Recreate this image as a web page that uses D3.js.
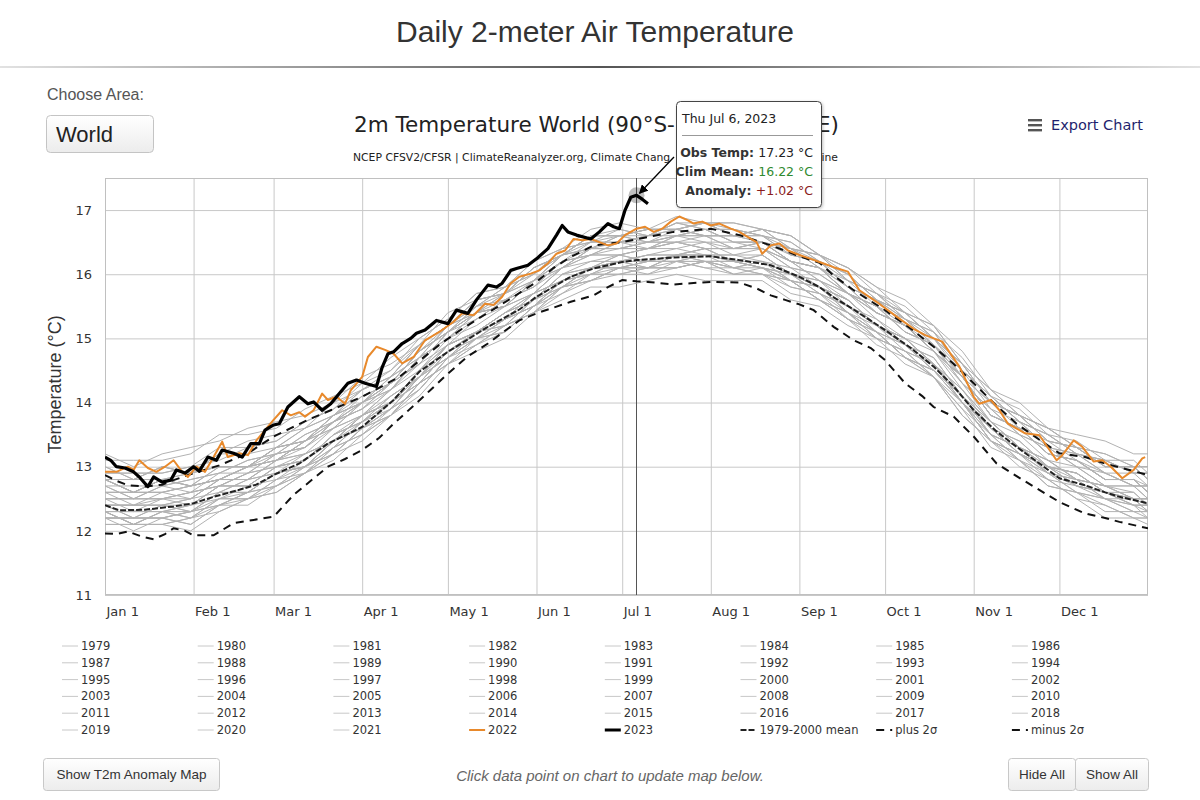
<!DOCTYPE html>
<html>
<head>
<meta charset="utf-8">
<script src="https://cdn.jsdelivr.net/npm/d3@7"></script>
<style>
  html, body { margin: 0; padding: 0; background: #fff; }
  body { width: 1200px; height: 800px; overflow: hidden; }
  svg { display: block; }
</style>
</head>
<body>
<svg id="chart" width="1200" height="800"></svg>
<script>
// ---------------- DATA ----------------
const monthDays = [0, 31, 59, 90, 120, 151, 181, 212, 243, 273, 304, 334];
const monthLabels = ["Jan 1", "Feb 1", "Mar 1", "Apr 1", "May 1", "Jun 1", "Jul 1", "Aug 1", "Sep 1", "Oct 1", "Nov 1", "Dec 1"];
const yTicks = [11, 12, 13, 14, 15, 16, 17];

// day-of-year sample points for the grey background years
const greyDays = [0,10,20,30,40,50,60,70,80,90,100,110,120,130,140,150,160,170,180,190,200,210,220,230,240,250,260,270,280,290,300,310,320,330,340,350,360,365];
const greyYears = [1979,1980,1981,1982,1983,1984,1985,1986,1987,1988,1989,1990,1991,1992,1993,1994,1995,1996,1997,1998,1999,2000,2001,2002,2003,2004,2005,2006,2007,2008,2009,2010,2011,2012,2013,2014,2015,2016,2017,2018,2019,2020,2021];
const greyValues = [
 [12.2,12.2,12.2,12.1,12.4,12.6,12.7,12.9,13.3,13.5,13.9,14.2,14.7,15.0,15.1,15.5,15.8,15.9,16.1,16.1,16.1,16.2,16.1,16.0,15.8,15.7,15.4,15.0,14.8,14.6,14.0,13.5,13.3,12.9,12.7,12.6,12.4,12.4],
 [12.3,12.1,12.3,12.4,12.5,12.6,12.9,13.0,13.3,13.7,14.0,14.3,14.8,15.0,15.3,15.5,15.8,16.1,16.1,16.2,16.2,16.2,16.2,16.1,15.9,15.6,15.4,15.1,14.7,14.5,14.0,13.4,13.2,12.8,12.7,12.5,12.3,12.3],
 [12.4,12.2,12.4,12.3,12.6,12.8,12.9,13.0,13.4,13.6,13.9,14.4,14.7,15.1,15.3,15.5,15.9,16.0,16.1,16.2,16.3,16.2,16.2,16.2,15.9,15.8,15.5,15.1,14.9,14.5,14.1,13.6,13.2,13.0,12.9,12.6,12.5,12.3],
 [12.3,12.1,12.1,12.2,12.4,12.4,12.7,12.9,13.3,13.5,13.8,14.3,14.6,14.9,15.2,15.4,15.8,15.9,16.0,16.1,16.1,16.2,16.0,16.0,15.7,15.6,15.3,15.1,14.7,14.5,14.0,13.4,13.2,13.0,12.7,12.6,12.5,12.5],
 [12.5,12.5,12.5,12.6,12.7,12.9,13.0,13.1,13.5,13.7,14.0,14.3,14.8,15.1,15.2,15.6,15.8,16.1,16.1,16.1,16.3,16.2,16.1,16.2,15.9,15.8,15.4,15.0,14.8,14.4,14.0,13.5,13.1,12.9,12.6,12.5,12.3,12.3],
 [12.2,12.0,12.2,12.1,12.4,12.5,12.6,12.9,13.2,13.6,13.8,14.2,14.7,14.9,15.1,15.5,15.7,15.9,16.1,16.0,16.1,16.2,16.0,16.0,15.9,15.6,15.3,14.9,14.7,14.4,13.8,13.4,13.0,12.8,12.5,12.2,12.2,12.1],
 [12.1,12.1,12.1,12.0,12.3,12.5,12.6,12.9,13.1,13.5,13.8,14.3,14.6,14.9,15.2,15.4,15.7,16.0,16.0,16.0,16.2,16.1,16.0,16.1,15.8,15.7,15.3,15.0,14.8,14.4,13.9,13.5,13.1,12.7,12.6,12.4,12.2,12.2],
 [12.2,12.2,12.2,12.3,12.4,12.6,12.7,13.0,13.2,13.6,13.9,14.2,14.7,15.0,15.1,15.5,15.8,15.9,16.1,16.1,16.2,16.1,16.1,16.1,15.9,15.8,15.4,15.1,14.9,14.5,14.1,13.5,13.3,12.9,12.8,12.5,12.5,12.3],
 [12.3,12.3,12.3,12.4,12.7,12.7,13.0,13.1,13.4,13.8,14.0,14.4,14.9,15.1,15.3,15.7,15.9,16.1,16.3,16.2,16.3,16.4,16.2,16.3,16.0,15.9,15.6,15.2,15.0,14.6,14.2,13.7,13.3,13.1,12.8,12.7,12.5,12.5],
 [12.5,12.5,12.5,12.5,12.8,12.8,12.9,13.2,13.4,13.8,14.1,14.4,14.9,15.1,15.4,15.6,16.0,16.1,16.2,16.3,16.3,16.3,16.3,16.2,16.0,15.7,15.5,15.2,14.8,14.6,14.0,13.6,13.2,12.9,12.8,12.5,12.4,12.4],
 [12.2,12.2,12.2,12.3,12.5,12.5,12.8,13.0,13.4,13.6,13.9,14.4,14.7,15.0,15.3,15.5,15.9,16.0,16.2,16.2,16.2,16.3,16.2,16.1,16.0,15.8,15.6,15.2,14.9,14.7,14.1,13.6,13.4,13.0,12.8,12.7,12.5,12.4],
 [12.4,12.4,12.4,12.5,12.8,12.8,13.1,13.2,13.4,13.8,14.0,14.5,14.8,15.1,15.4,15.6,16.0,16.1,16.2,16.3,16.3,16.4,16.2,16.2,16.1,15.8,15.6,15.2,15.0,14.6,14.2,13.6,13.4,13.0,12.9,12.6,12.4,12.4],
 [12.4,12.4,12.5,12.4,12.7,12.7,13.0,13.1,13.5,13.7,14.1,14.4,14.9,15.1,15.4,15.7,15.9,16.1,16.1,16.2,16.2,16.2,16.2,16.1,15.9,15.6,15.4,15.1,14.7,14.5,14.0,13.4,13.2,12.9,12.6,12.5,12.4,12.2],
 [12.3,12.1,12.3,12.2,12.5,12.5,12.7,13.0,13.2,13.4,13.8,14.1,14.6,14.8,15.0,15.4,15.6,15.8,15.8,15.9,16.0,15.9,15.9,15.9,15.6,15.5,15.2,15.0,14.6,14.4,13.8,13.4,13.1,12.7,12.6,12.3,12.3,12.2],
 [12.1,12.1,12.1,12.2,12.3,12.5,12.8,12.9,13.2,13.6,13.8,14.3,14.6,15.0,15.2,15.4,15.8,16.0,16.0,16.1,16.1,16.2,16.1,16.0,15.9,15.6,15.3,15.1,14.7,14.4,13.9,13.3,13.1,12.8,12.5,12.4,12.2,12.2],
 [12.2,12.2,12.2,12.3,12.6,12.6,12.9,13.0,13.4,13.7,13.9,14.4,14.8,15.0,15.3,15.6,15.8,16.1,16.2,16.1,16.3,16.3,16.1,16.2,16.0,15.7,15.5,15.2,15.0,14.6,14.1,13.7,13.3,13.1,12.8,12.7,12.6,12.4],
 [12.5,12.3,12.5,12.6,12.7,12.9,13.0,13.2,13.4,13.8,14.0,14.5,14.9,15.1,15.4,15.6,16.0,16.2,16.2,16.3,16.4,16.3,16.3,16.3,16.0,15.9,15.5,15.3,14.9,14.6,14.0,13.6,13.2,13.0,12.7,12.6,12.4,12.3],
 [12.3,12.1,12.3,12.3,12.6,12.6,12.9,13.0,13.3,13.7,14.0,14.3,14.8,15.1,15.2,15.6,15.9,16.0,16.2,16.2,16.2,16.3,16.2,16.1,16.0,15.8,15.4,15.2,14.9,14.5,14.1,13.5,13.3,13.0,12.9,12.6,12.5,12.5],
 [12.4,12.4,12.4,12.4,12.7,12.7,13.0,13.1,13.5,13.8,14.0,14.5,14.9,15.1,15.4,15.7,16.1,16.2,16.3,16.4,16.4,16.5,16.3,16.4,16.2,15.9,15.7,15.4,15.2,14.8,14.4,13.8,13.6,13.2,13.1,12.9,12.7,12.7],
 [12.7,12.7,12.7,12.8,12.9,13.1,13.2,13.5,13.7,14.0,14.3,14.8,15.1,15.4,15.6,15.8,16.2,16.3,16.4,16.5,16.5,16.5,16.5,16.4,16.2,15.9,15.7,15.3,15.0,14.8,14.2,13.7,13.3,13.1,12.8,12.7,12.5,12.5],
 [12.4,12.2,12.4,12.3,12.4,12.6,12.9,13.0,13.4,13.6,14.0,14.4,14.7,15.1,15.3,15.5,15.9,16.1,16.2,16.1,16.3,16.3,16.2,16.1,16.0,15.8,15.6,15.2,15.0,14.6,14.1,13.7,13.3,13.0,12.9,12.6,12.6,12.4],
 [12.3,12.3,12.3,12.2,12.5,12.7,12.8,13.1,13.5,13.7,14.1,14.4,14.9,15.1,15.3,15.7,15.9,16.1,16.3,16.2,16.3,16.4,16.2,16.3,16.0,15.8,15.6,15.2,14.9,14.7,14.1,13.6,13.2,13.0,12.7,12.6,12.5,12.3],
 [12.5,12.5,12.5,12.6,12.7,12.9,13.2,13.3,13.6,13.8,14.2,14.6,14.9,15.3,15.5,15.7,16.1,16.3,16.3,16.4,16.5,16.4,16.4,16.4,16.2,16.1,15.7,15.4,15.2,14.8,14.4,13.8,13.6,13.2,13.1,12.8,12.8,12.6],
 [12.7,12.5,12.7,12.8,12.9,13.1,13.2,13.5,13.7,14.0,14.2,14.7,15.0,15.4,15.5,15.9,16.1,16.4,16.4,16.4,16.6,16.5,16.4,16.5,16.2,16.1,15.8,15.4,15.2,14.9,14.3,13.9,13.5,13.3,13.2,12.9,12.7,12.7],
 [12.8,12.6,12.8,12.7,12.8,13.0,13.1,13.4,13.6,14.0,14.3,14.6,15.1,15.3,15.6,15.8,16.2,16.4,16.4,16.5,16.6,16.7,16.5,16.5,16.2,16.1,15.7,15.5,15.2,14.8,14.4,13.8,13.6,13.2,13.1,12.8,12.8,12.7],
 [12.7,12.5,12.7,12.6,12.9,12.9,13.2,13.3,13.7,13.9,14.2,14.7,15.0,15.3,15.6,15.8,16.1,16.4,16.4,16.4,16.5,16.4,16.4,16.4,16.1,16.0,15.7,15.5,15.1,14.9,14.4,13.8,13.6,13.4,13.1,12.8,12.8,12.6],
 [12.8,12.6,12.8,12.9,13.0,13.0,13.3,13.4,13.8,14.0,14.3,14.8,15.1,15.5,15.6,15.9,16.3,16.4,16.5,16.6,16.6,16.6,16.6,16.5,16.3,16.2,15.8,15.6,15.3,14.9,14.5,13.9,13.7,13.3,13.0,12.9,12.7,12.7],
 [12.6,12.6,12.6,12.7,12.8,13.0,13.1,13.4,13.7,13.9,14.3,14.6,15.1,15.4,15.5,15.9,16.2,16.3,16.5,16.5,16.6,16.7,16.5,16.5,16.4,16.1,15.9,15.5,15.3,15.0,14.4,14.0,13.8,13.4,13.3,13.0,13.0,12.8],
 [13.0,12.8,13.0,12.9,13.0,13.0,13.3,13.4,13.8,14.0,14.3,14.8,15.1,15.4,15.5,15.9,16.1,16.4,16.4,16.5,16.5,16.6,16.4,16.5,16.2,16.1,15.7,15.4,15.2,14.8,14.3,13.7,13.5,13.1,13.0,12.7,12.7,12.5],
 [12.4,12.4,12.4,12.5,12.6,12.8,13.1,13.2,13.6,13.8,14.2,14.5,15.0,15.2,15.5,15.7,16.1,16.3,16.3,16.4,16.5,16.4,16.4,16.4,16.1,16.0,15.7,15.5,15.1,14.9,14.3,13.9,13.5,13.3,13.0,12.7,12.7,12.5],
 [12.6,12.6,12.6,12.7,12.8,13.0,13.1,13.3,13.7,13.9,14.3,14.6,15.1,15.4,15.5,15.9,16.2,16.5,16.5,16.6,16.7,16.6,16.6,16.6,16.3,16.2,15.8,15.6,15.3,14.9,14.5,14.1,13.7,13.5,13.2,13.1,12.9,12.9],
 [12.9,12.9,12.9,13.0,13.1,13.3,13.4,13.7,13.9,14.2,14.4,14.9,15.2,15.5,15.8,16.0,16.3,16.4,16.6,16.5,16.6,16.7,16.5,16.5,16.4,16.1,15.8,15.4,15.2,14.8,14.4,14.0,13.6,13.2,13.1,12.8,12.8,12.6],
 [12.6,12.4,12.6,12.5,12.8,12.8,13.1,13.4,13.6,14.0,14.2,14.7,15.0,15.4,15.5,15.9,16.2,16.3,16.5,16.4,16.6,16.6,16.4,16.5,16.2,16.1,15.7,15.5,15.1,14.9,14.4,13.8,13.6,13.2,13.1,12.8,12.8,12.6],
 [12.6,12.6,12.6,12.7,12.8,13.0,13.2,13.3,13.7,14.0,14.4,14.7,15.2,15.4,15.7,15.9,16.3,16.5,16.5,16.6,16.7,16.6,16.6,16.6,16.3,16.2,15.9,15.7,15.3,15.1,14.5,14.1,13.7,13.3,13.2,12.9,12.9,12.7],
 [12.8,12.6,12.8,12.7,13.0,13.0,13.3,13.4,13.7,14.1,14.3,14.8,15.1,15.5,15.7,15.9,16.3,16.4,16.6,16.5,16.7,16.6,16.6,16.5,16.4,16.2,15.8,15.6,15.2,15.0,14.5,14.1,13.7,13.5,13.2,13.1,12.9,12.9],
 [12.8,12.8,12.8,12.9,13.0,13.0,13.3,13.4,13.8,14.1,14.3,14.8,15.2,15.6,15.7,16.0,16.4,16.5,16.6,16.7,16.7,16.8,16.6,16.7,16.4,16.3,16.0,15.6,15.4,15.0,14.6,14.0,13.8,13.4,13.3,13.0,13.0,12.8],
 [12.8,12.8,13.0,12.9,13.2,13.2,13.3,13.6,13.8,14.2,14.4,14.9,15.2,15.6,15.7,16.1,16.3,16.6,16.7,16.6,16.8,16.8,16.8,16.7,16.6,16.3,16.1,15.8,15.6,15.2,14.8,14.2,14.0,13.6,13.5,13.4,13.2,13.2],
 [13.2,13.0,13.2,13.3,13.4,13.6,13.7,13.8,14.0,14.4,14.6,14.9,15.4,15.6,15.7,16.1,16.3,16.6,16.6,16.7,16.7,16.8,16.6,16.7,16.4,16.3,15.9,15.7,15.3,15.1,14.5,14.1,13.7,13.5,13.2,13.1,12.9,12.9],
 [12.9,12.9,12.9,13.0,13.3,13.3,13.4,13.7,13.9,14.3,14.5,14.9,15.2,15.6,15.7,16.1,16.3,16.6,16.6,16.7,16.7,16.8,16.7,16.6,16.5,16.2,16.0,15.6,15.4,15.2,14.6,14.0,13.8,13.6,13.3,13.0,13.0,12.8],
 [12.8,12.6,12.8,12.7,13.0,13.0,13.3,13.6,13.8,14.2,14.4,14.9,15.2,15.5,15.8,16.0,16.3,16.6,16.6,16.6,16.8,16.7,16.7,16.6,16.4,16.3,15.9,15.7,15.4,15.0,14.6,14.2,13.8,13.6,13.3,13.2,13.0,13.0],
 [13.0,12.8,13.0,12.9,13.2,13.4,13.5,13.6,14.0,14.2,14.5,15.0,15.3,15.7,15.8,16.2,16.4,16.7,16.8,16.7,16.9,16.8,16.8,16.7,16.6,16.3,16.1,15.8,15.4,15.2,14.6,14.2,13.8,13.6,13.3,13.2,13.0,13.0],
 [13.1,13.1,13.1,13.2,13.5,13.5,13.6,13.9,14.1,14.3,14.7,15.0,15.3,15.7,15.8,16.2,16.4,16.5,16.7,16.6,16.8,16.7,16.7,16.6,16.5,16.2,16.0,15.6,15.4,15.0,14.6,14.0,13.8,13.4,13.3,13.0,13.0,12.8],
 [12.8,12.6,12.8,12.7,12.8,13.0,13.1,13.4,13.8,14.0,14.4,14.7,15.2,15.4,15.7,16.1,16.3,16.6,16.6,16.7,16.7,16.8,16.6,16.7,16.6,16.3,16.1,15.7,15.5,15.1,14.7,14.1,13.9,13.5,13.4,13.1,13.1,12.9]
];

// [day-of-year, °C]
const meanSeries = [[0,12.40],[5,12.32],[14,12.33],[24,12.38],[31,12.43],[38,12.53],[47,12.64],[53,12.72],[59,12.87],[68,13.05],[78,13.36],[90,13.62],[101,14.04],[110,14.48],[120,14.79],[134,15.18],[145,15.45],[151,15.65],[163,15.96],[171,16.09],[181,16.19],[186,16.22],[199,16.26],[212,16.28],[222,16.22],[233,16.14],[243,15.96],[250,15.80],[255,15.64],[262,15.45],[273,15.13],[282,14.85],[290,14.56],[297,14.25],[304,13.88],[312,13.55],[319,13.31],[327,13.05],[334,12.82],[343,12.71],[350,12.60],[355,12.53],[365,12.43]];
const plus2Series = [[0,12.87],[4,12.78],[8,12.71],[14,12.69],[20,12.72],[24,12.79],[31,12.90],[40,13.02],[50,13.21],[59,13.47],[65,13.60],[71,13.73],[79,13.88],[90,14.09],[103,14.40],[110,14.65],[117,14.90],[125,15.15],[134,15.40],[142,15.62],[151,15.88],[157,16.10],[163,16.27],[171,16.45],[181,16.50],[190,16.58],[199,16.66],[205,16.68],[212,16.71],[222,16.61],[233,16.45],[243,16.28],[250,16.18],[255,15.98],[262,15.75],[273,15.44],[282,15.15],[290,14.87],[297,14.60],[304,14.30],[312,13.95],[319,13.67],[327,13.42],[334,13.21],[343,13.15],[350,13.05],[355,12.99],[365,12.87]];
const minus2Series = [[0,11.96],[4,11.95],[8,11.99],[13,11.91],[17,11.87],[21,11.95],[24,12.04],[28,12.00],[31,11.93],[38,11.93],[45,12.12],[52,12.17],[59,12.22],[66,12.56],[72,12.78],[78,13.00],[84,13.12],[90,13.26],[96,13.45],[101,13.67],[108,13.95],[114,14.20],[120,14.45],[127,14.72],[134,14.92],[140,15.12],[145,15.28],[151,15.39],[157,15.48],[163,15.57],[171,15.67],[176,15.80],[181,15.91],[186,15.89],[190,15.88],[199,15.84],[205,15.86],[212,15.88],[222,15.87],[228,15.78],[233,15.67],[238,15.60],[243,15.53],[248,15.44],[255,15.18],[262,14.97],[268,14.85],[273,14.66],[280,14.30],[286,14.10],[290,13.93],[297,13.78],[304,13.47],[312,13.05],[318,12.88],[325,12.69],[334,12.45],[343,12.27],[350,12.20],[355,12.14],[365,12.04]];
const series2022 = [[0,12.92],[4,12.92],[8,13.00],[10,12.95],[12,13.10],[15,12.98],[18,12.92],[21,13.00],[24,13.10],[27,12.92],[29,12.84],[32,13.00],[35,12.92],[38,13.15],[41,13.39],[43,13.15],[47,13.21],[50,13.18],[53,13.41],[56,13.57],[59,13.73],[62,13.88],[65,13.80],[68,13.85],[70,13.78],[73,13.88],[76,14.14],[78,14.04],[81,14.09],[84,13.98],[86,14.19],[90,14.40],[92,14.71],[95,14.87],[98,14.82],[101,14.76],[104,14.61],[108,14.71],[112,14.97],[117,15.10],[122,15.26],[125,15.39],[129,15.36],[133,15.54],[136,15.52],[139,15.65],[142,15.86],[145,15.96],[149,16.01],[152,16.06],[155,16.17],[158,16.32],[161,16.37],[164,16.55],[167,16.53],[170,16.55],[173,16.50],[176,16.45],[179,16.48],[182,16.61],[186,16.71],[189,16.74],[192,16.66],[195,16.71],[198,16.82],[201,16.90],[204,16.84],[206,16.79],[209,16.82],[212,16.76],[215,16.79],[219,16.71],[222,16.66],[225,16.58],[228,16.50],[230,16.32],[233,16.45],[236,16.48],[239,16.37],[243,16.30],[247,16.24],[250,16.19],[255,16.11],[260,16.04],[264,15.75],[270,15.57],[277,15.34],[283,15.15],[287,15.05],[293,14.95],[299,14.56],[304,14.09],[306,13.98],[310,14.04],[313,13.88],[316,13.67],[322,13.52],[327,13.49],[333,13.10],[335,13.18],[339,13.41],[342,13.31],[346,13.08],[349,13.10],[352,13.00],[356,12.82],[360,12.95],[363,13.13],[364,13.15]];
const series2023 = [[0,13.15],[2,13.10],[4,13.00],[7,12.98],[10,12.92],[12,12.84],[15,12.69],[17,12.84],[20,12.76],[23,12.79],[25,12.95],[28,12.90],[31,13.00],[33,12.93],[36,13.15],[39,13.10],[41,13.26],[45,13.21],[48,13.15],[51,13.36],[54,13.36],[56,13.57],[59,13.65],[61,13.67],[64,13.93],[68,14.09],[71,13.98],[73,14.01],[76,13.88],[79,13.98],[82,14.14],[85,14.30],[88,14.35],[91,14.30],[95,14.25],[97,14.55],[99,14.76],[101,14.79],[104,14.92],[107,15.00],[109,15.08],[112,15.13],[116,15.28],[120,15.23],[123,15.44],[127,15.39],[130,15.60],[134,15.83],[137,15.80],[139,15.86],[142,16.06],[144,16.09],[148,16.14],[151,16.24],[155,16.40],[158,16.61],[160,16.76],[162,16.66],[165,16.61],[170,16.55],[173,16.66],[176,16.79],[178,16.74],[180,16.71],[182,17.00],[184,17.20],[186,17.23],[188,17.17],[190,17.10]];

// chart title / subtitle: the middle of each is hidden behind the tooltip in the reference
const titleVisible = ["2m Temperature World (90°S-", "E)"];
const subtitleVisible = ["NCEP CFSV2/CFSR | ClimateReanalyzer.org, Climate Chang", "ine"];

const tooltipDay = 186;
const tooltipDate = "Thu Jul 6, 2023";
const tooltipObs = "17.23 °C";
const tooltipClim = "16.22 °C";
const tooltipAnom = "+1.02 °C";

// ---------------- DRAW ----------------
const W = 1200, H = 800;
const plot = { left: 105, right: 1148, top: 178, bottom: 595 };
const svg = d3.select("#chart");
const SANS = "'Liberation Sans', Arial, Helvetica, sans-serif";
const HC = "'DejaVu Sans', Verdana, sans-serif";

const defs = svg.append("defs");
const hr = defs.append("linearGradient").attr("id", "hrg").attr("x1", "0%").attr("x2", "100%");
hr.append("stop").attr("offset", "0%").attr("stop-color", "#e2e2e2");
hr.append("stop").attr("offset", "50%").attr("stop-color", "#555");
hr.append("stop").attr("offset", "100%").attr("stop-color", "#e2e2e2");
const btn = defs.append("linearGradient").attr("id", "btng").attr("x1", "0").attr("x2", "0").attr("y1", "0").attr("y2", "1");
btn.append("stop").attr("offset", "0%").attr("stop-color", "#ffffff");
btn.append("stop").attr("offset", "100%").attr("stop-color", "#ececec");
const sh = defs.append("filter").attr("id", "shadow").attr("x", "-10%").attr("y", "-10%").attr("width", "130%").attr("height", "130%");
sh.append("feDropShadow").attr("dx", 1).attr("dy", 1).attr("stdDeviation", 1.5).attr("flood-color", "#000").attr("flood-opacity", 0.25);
defs.append("clipPath").attr("id", "plotclip").append("rect")
  .attr("x", plot.left).attr("y", plot.top).attr("width", plot.right - plot.left).attr("height", plot.bottom - plot.top);
const arrow = defs.append("marker").attr("id", "arrow").attr("viewBox", "0 0 10 10").attr("refX", 9).attr("refY", 5)
  .attr("markerWidth", 7).attr("markerHeight", 7).attr("orient", "auto-start-reverse");
arrow.append("path").attr("d", "M0,0 L10,5 L0,10 z").attr("fill", "#000");

// page header
svg.append("text").attr("x", 595).attr("y", 42).attr("text-anchor", "middle")
  .attr("font-family", SANS).attr("font-size", 30).attr("fill", "#333").text("Daily 2-meter Air Temperature");
svg.append("rect").attr("x", 0).attr("y", 66).attr("width", W).attr("height", 2).attr("fill", "url(#hrg)");

svg.append("text").attr("x", 47).attr("y", 100).attr("font-family", SANS).attr("font-size", 16).attr("fill", "#555").text("Choose Area:");
svg.append("rect").attr("x", 46.5).attr("y", 115.5).attr("width", 107).attr("height", 37).attr("rx", 4)
  .attr("fill", "url(#btng)").attr("stroke", "#c4c4c4");
svg.append("text").attr("x", 56).attr("y", 142).attr("font-family", SANS).attr("font-size", 22).attr("fill", "#222").text("World");

// scales
const x = d3.scaleLinear().domain([0, 365]).range([plot.left, plot.right]);
const y = d3.scaleLinear().domain([11, 17.5]).range([plot.bottom, plot.top]);

// chart titles (visible fragments)
svg.append("text").attr("x", 354).attr("y", 132).attr("font-family", HC).attr("font-size", 21.5).attr("fill", "#222").text(titleVisible[0]);
svg.append("text").attr("x", 839).attr("y", 132).attr("text-anchor", "end").attr("font-family", HC).attr("font-size", 21.5).attr("fill", "#222").text(titleVisible[1]);
svg.append("text").attr("x", 353).attr("y", 161).attr("font-family", HC).attr("font-size", 10.8).attr("fill", "#222").text(subtitleVisible[0]);
svg.append("text").attr("x", 838).attr("y", 161).attr("text-anchor", "end").attr("font-family", HC).attr("font-size", 10.8).attr("fill", "#222").text(subtitleVisible[1]);

// export button
const ex = svg.append("g");
[119, 124, 129].forEach(yy => ex.append("rect").attr("x", 1028).attr("y", yy).attr("width", 14).attr("height", 2.4).attr("fill", "#555"));
ex.append("text").attr("x", 1051).attr("y", 130).attr("font-family", HC).attr("font-size", 14.5).attr("fill", "#1f1f6e").text("Export Chart");

// grid + axes
const gY = svg.append("g").attr("transform", `translate(${plot.left},0)`)
  .call(d3.axisLeft(y).tickValues(yTicks).tickSize(-(plot.right - plot.left)).tickPadding(13).tickFormat(d3.format("d")));
gY.select(".domain").remove();
gY.selectAll("line").attr("stroke", "#c8c8c8");
gY.selectAll("text").attr("font-family", HC).attr("font-size", 13).attr("fill", "#333");

const gX = svg.append("g").attr("transform", `translate(0,${plot.bottom})`)
  .call(d3.axisBottom(x).tickValues(monthDays).tickSize(-(plot.bottom - plot.top)).tickFormat((d, i) => monthLabels[i]));
gX.select(".domain").remove();
gX.selectAll("line").attr("stroke", "#c8c8c8");
gX.selectAll("text").attr("font-family", HC).attr("font-size", 13).attr("fill", "#333")
  .attr("text-anchor", "start").attr("dx", 1).attr("y", 12).attr("dy", "0.71em");

svg.append("rect").attr("x", plot.left + 0.5).attr("y", plot.top + 0.5)
  .attr("width", plot.right - plot.left - 1).attr("height", plot.bottom - plot.top - 1)
  .attr("fill", "none").attr("stroke", "#c0c0c0");

svg.append("text").attr("transform", `translate(61,${(plot.top + plot.bottom) / 2 - 2}) rotate(-90)`)
  .attr("text-anchor", "middle").attr("font-family", SANS).attr("font-size", 18).attr("fill", "#333").text("Temperature (°C)");

// series
const line = d3.line().x(d => x(d[0])).y(d => y(d[1]));
const series = svg.append("g").attr("clip-path", "url(#plotclip)");

// crosshair
series.append("line").attr("x1", x(tooltipDay)).attr("x2", x(tooltipDay)).attr("y1", plot.top).attr("y2", plot.bottom)
  .attr("stroke", "#555").attr("stroke-width", 1);

series.selectAll("path.grey").data(greyValues).enter().append("path").attr("class", "grey")
  .attr("d", vals => line(vals.map((v, j) => [greyDays[j], v])))
  .attr("fill", "none").attr("stroke", "#b2b2b2").attr("stroke-width", 1).attr("stroke-linejoin", "round");

series.append("path").attr("d", line(minus2Series)).attr("fill", "none").attr("stroke", "#111").attr("stroke-width", 2).attr("stroke-dasharray", "8,6");
series.append("path").attr("d", line(plus2Series)).attr("fill", "none").attr("stroke", "#111").attr("stroke-width", 2).attr("stroke-dasharray", "8,6");
series.append("path").attr("d", line(meanSeries)).attr("fill", "none").attr("stroke", "#222").attr("stroke-width", 2).attr("stroke-dasharray", "6,2");
series.append("path").attr("d", line(series2022)).attr("fill", "none").attr("stroke", "#e8892b").attr("stroke-width", 2).attr("stroke-linejoin", "round");
series.append("path").attr("d", line(series2023)).attr("fill", "none").attr("stroke", "#000").attr("stroke-width", 3.2).attr("stroke-linejoin", "round");

// hovered point
const hp = series2023.find(d => d[0] === tooltipDay);
svg.append("circle").attr("cx", x(hp[0])).attr("cy", y(hp[1])).attr("r", 8).attr("fill", "rgba(0,0,0,0.25)");

// legend
const legendLabels = greyYears.map(String).concat(["2022", "2023", "1979-2000 mean", "plus 2σ", "minus 2σ"]);
const legendStyles = greyYears.map(() => ({ c: "#c8c8c8", w: 1, dash: null }))
  .concat([{ c: "#e8892b", w: 2, dash: null }, { c: "#000", w: 3, dash: null },
           { c: "#222", w: 2, dash: "6,2" }, { c: "#111", w: 2, dash: "8,6" }, { c: "#111", w: 2, dash: "8,6" }]);
const lg = svg.append("g");
legendLabels.forEach((lab, i) => {
  const col = i % 8, row = Math.floor(i / 8);
  const lx = 62 + col * 135.7, ly = 646 + row * 16.8;
  const st = legendStyles[i];
  const l = lg.append("line").attr("x1", lx).attr("x2", lx + 16).attr("y1", ly).attr("y2", ly)
    .attr("stroke", st.c).attr("stroke-width", st.w);
  if (st.dash) l.attr("stroke-dasharray", st.dash);
  lg.append("text").attr("x", lx + 19).attr("y", ly + 4).attr("font-family", HC).attr("font-size", 11.5)
    .attr("fill", "#333").text(lab);
});

// tooltip
const tt = svg.append("g");
tt.append("line").attr("x1", 674).attr("y1", 157).attr("x2", x(hp[0]) + 3).attr("y2", y(hp[1]) - 2)
  .attr("stroke", "#000").attr("stroke-width", 1.3).attr("marker-end", "url(#arrow)");
tt.append("rect").attr("x", 676.5).attr("y", 101.5).attr("width", 145).attr("height", 106).attr("rx", 4)
  .attr("fill", "#fff").attr("stroke", "#444").attr("stroke-width", 1).attr("filter", "url(#shadow)");
tt.append("text").attr("x", 682).attr("y", 123).attr("font-family", HC).attr("font-size", 12.5).attr("fill", "#222").text(tooltipDate);
tt.append("line").attr("x1", 682).attr("x2", 813).attr("y1", 135.5).attr("y2", 135.5).attr("stroke", "#999");
const rows = [["Obs Temp: ", tooltipObs, "#222", 157], ["Clim Mean: ", tooltipClim, "#2f8a2f", 176], ["Anomaly: ", tooltipAnom, "#8a1c1c", 195]];
rows.forEach(r => {
  const t = tt.append("text").attr("x", 813).attr("y", r[3]).attr("text-anchor", "end").attr("font-family", HC).attr("font-size", 12.5);
  t.append("tspan").attr("font-weight", "bold").attr("fill", "#333").text(r[0]);
  t.append("tspan").attr("fill", r[2]).text(r[1]);
});

// bottom controls
function button(x0, w, label) {
  svg.append("rect").attr("x", x0 + 0.5).attr("y", 758.5).attr("width", w).attr("height", 32).attr("rx", 3)
    .attr("fill", "url(#btng)").attr("stroke", "#c8c8c8");
  svg.append("text").attr("x", x0 + w / 2 + 0.5).attr("y", 779).attr("text-anchor", "middle")
    .attr("font-family", SANS).attr("font-size", 13.5).attr("fill", "#333").text(label);
}
button(43, 176, "Show T2m Anomaly Map");
button(1008, 67, "Hide All");
button(1075, 73, "Show All");
svg.append("text").attr("x", 610).attr("y", 781).attr("text-anchor", "middle").attr("font-family", SANS)
  .attr("font-style", "italic").attr("font-size", 15).attr("fill", "#666").text("Click data point on chart to update map below.");
</script>
</body>
</html>
